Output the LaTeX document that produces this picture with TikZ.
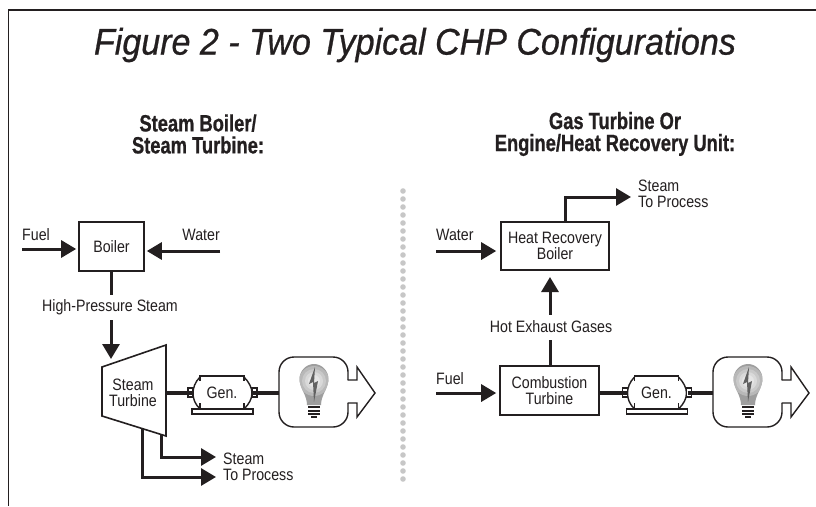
\documentclass[tikz,border=0pt]{standalone}
\usepackage{fontspec}
\setmainfont[FakeStretch=0.86]{Liberation Sans}
\newfontfamily\headfont[FakeStretch=0.78,FakeBold=0.8]{Liberation Sans}
\newfontfamily\titlefont[FakeStretch=0.92,FakeBold=0.7]{Liberation Sans}
\usepackage{tikz}
\usetikzlibrary{arrows.meta,positioning}
\definecolor{ink}{HTML}{231F20}
\tikzset{
  gen/.pic={
    \node[lab] (-txt) {Gen.};
    \coordinate (-west) at (-30,0);
    \coordinate (-east) at (31,0);
    \draw[unit] (-22,-12) -- (-22,-17) -- (22,-17) -- (22,-12);
    \draw[unit] (-22,-16) .. controls (-27,-11) and (-29,-5) .. (-29,0) .. controls (-29,6) and (-27,11) .. (-22,16);
    \draw[unit] (22,-16) .. controls (27,-11) and (30,-5) .. (30,0) .. controls (30,6) and (27,11) .. (22,16);
    \draw[unit] (-22,10) -- (-22,16);
    \draw[unit] (22,10) -- (22,16);
    \draw[unit] (-30,16) rectangle (31,21);
    \draw[unit,fill=white] (-34,-5) rectangle (-29,4);
    \draw[unit,fill=white] (30,-5) rectangle (35,4);
  },
  bulb/.pic={
    \coordinate (-west) at (-35,0);
    \draw[unit,rounded corners=15pt] (34,-13) -- (34,-36) -- (-35,-36) -- (-35,34) -- (34,34) -- (34,10);
    \draw[unit,line cap=round] (34,10) -- (43,10) -- (43,24) -- (61,0) -- (43,-26) -- (43,-13) -- (34,-13);
    \begin{scope}
      \clip (-7,12) .. controls (-7,2) and (-14.5,-5) .. (-14.5,-14) .. controls (-14.5,-22) and (-8,-29) .. (0,-29)
        .. controls (8,-29) and (14.5,-22) .. (14.5,-14) .. controls (14.5,-5) and (7,2) .. (7,12) -- cycle;
      \fill[black!38] (-16,-30) rectangle (16,13);
      \foreach \rad/\shade in {15/28,12/21,9/15,6/10}
        \fill[black!\shade] (0,-12) circle (\rad);
    \end{scope}
    \fill[black!62] (1,-26) -- (-5,-9) -- (-1,-11) -- (0,9) -- (4,-12) -- (0,-10) -- cycle;
    \foreach \yy in {14,17.5,21}
      \draw[ink,line width=2pt] (-6,\yy) -- (6,\yy);
    \draw[ink,line width=1.5pt] (-3,24) -- (3,24);
  }
}
\begin{document}
\begin{tikzpicture}[
  x=1pt,y=-1pt,
  node distance=4pt,
  stage/.style={draw=ink,line width=1.6pt,align=center,inner sep=0pt,font=\fontsize{16.5}{16}\selectfont,text=ink},
  lab/.style={align=center,inner sep=0pt,font=\fontsize{16.5}{16}\selectfont,text=ink},
  labl/.style={lab,align=left},
  head/.style={align=center,inner sep=0pt,font=\headfont\bfseries\fontsize{23.5}{22}\selectfont,text=ink},
  arr/.style={draw=ink,line width=3pt,-{Triangle[length=15pt,width=17pt]}},
  shaft/.style={draw=ink,line width=3.4pt},
  unit/.style={draw=ink,line width=1.4pt},
  gaplab/.style={lab,fill=white,minimum height=25pt}
]
\useasboundingbox (0,0) rectangle (816,506);
\fill[white] (0,0) rectangle (816,506);
\coordinate (frameA) at (816,10);
\coordinate (frameB) at (8.5,10);
\coordinate (frameC) at (8.5,506);
\draw[ink,line width=1.5pt] (frameA) -- (frameB) -- (frameC);
\node[inner sep=0pt,text=ink,font=\titlefont\itshape\fontsize{37}{38}\selectfont] (title) at (415,45) {Figure 2 - Two Typical CHP Configurations};
\node[head] (leftHead)  at (198,134) {Steam Boiler/\\Steam Turbine:};
\node[head] (rightHead) at (615,134) {Gas Turbine Or\\Engine/Heat Recovery Unit:};
\foreach \k in {0,...,36}
  \fill[black!22] (403,191+8*\k) circle (2.8);

\node[stage,minimum width=65pt,minimum height=49pt] (boiler) at (111.5,246.5) {Boiler};
\coordinate (fuelA) at (22,249);
\coordinate (waterA) at (220,251);
\node[labl,above right=8pt and 0pt of fuelA] (fuelAl) {Fuel};
\node[labl,above left=10pt and 0pt of waterA] (waterAl) {Water};
\draw[arr,shorten >=2pt] (fuelA) -- (fuelA -| boiler.west);
\draw[arr,shorten >=2pt] (waterA) -- (waterA -| boiler.east);
\coordinate (turbIn) at (111,359);
\draw[arr] (boiler.south -| turbIn) -- (turbIn);
\node[gaplab] (hps) at (110,307) {High-Pressure Steam};
\node[lab] (turbine) at (133,392.5) {Steam\\Turbine};
\coordinate (turbA) at (102,367);
\coordinate (turbB) at (166,345);
\coordinate (turbC) at (166,436);
\coordinate (turbD) at (102,416);
\draw[unit,line width=1.6pt] (turbA) -- (turbB) -- (turbC) -- (turbD) -- cycle;
\coordinate (turbE) at (166,393);
\pic (genA) at (222,393) {gen};
\pic (bulbA) at (314,393) {bulb};
\draw[shaft] (turbE) -- (genA-west);
\draw[shaft] (genA-east) -- (bulbA-west);
\coordinate (outA) at (161,434);
\coordinate (outB) at (142,428);
\coordinate (outAe) at (216,457);
\coordinate (outBe) at (216,477);
\draw[arr] (outA) |- (outAe);
\draw[arr] (outB) |- (outBe);
\node[labl,right=7pt of outAe,yshift=-2pt] (steamA) {Steam};
\node[labl,right=7pt of outBe,yshift=2pt] (procA) {To Process};

\node[stage,minimum width=108pt,minimum height=48pt] (hrb) at (555,246) {Heat Recovery\\Boiler};
\node[stage,minimum width=99pt,minimum height=49pt] (comb) at (549.5,390.5) {Combustion\\Turbine};
\coordinate (waterB) at (436,251);
\coordinate (fuelB) at (436,393);
\node[labl,above right=10pt and 0pt of waterB] (waterBl) {Water};
\node[labl,above right=8pt and 0pt of fuelB] (fuelBl) {Fuel};
\draw[arr,shorten >=4pt] (waterB) -- (waterB -| hrb.west);
\draw[arr,shorten >=3pt] (fuelB) -- (fuelB -| comb.west);
\coordinate (hotA) at (550,277);
\draw[arr] (comb.north -| hotA) -- (hotA);
\node[gaplab] (hot) at (551,327) {Hot Exhaust Gases};
\coordinate (outC) at (565,222);
\coordinate (outCe) at (631,197);
\draw[arr] (outC) |- (outCe);
\node[labl,right=7pt of outCe,yshift=3pt] (steamB) {Steam\\To Process};
\pic (genB) at (656.5,393) {gen};
\pic (bulbB) at (748,393) {bulb};
\draw[shaft] (comb.east |- fuelB) -- (genB-west);
\draw[shaft] (genB-east) -- (bulbB-west);
\end{tikzpicture}
\end{document}
